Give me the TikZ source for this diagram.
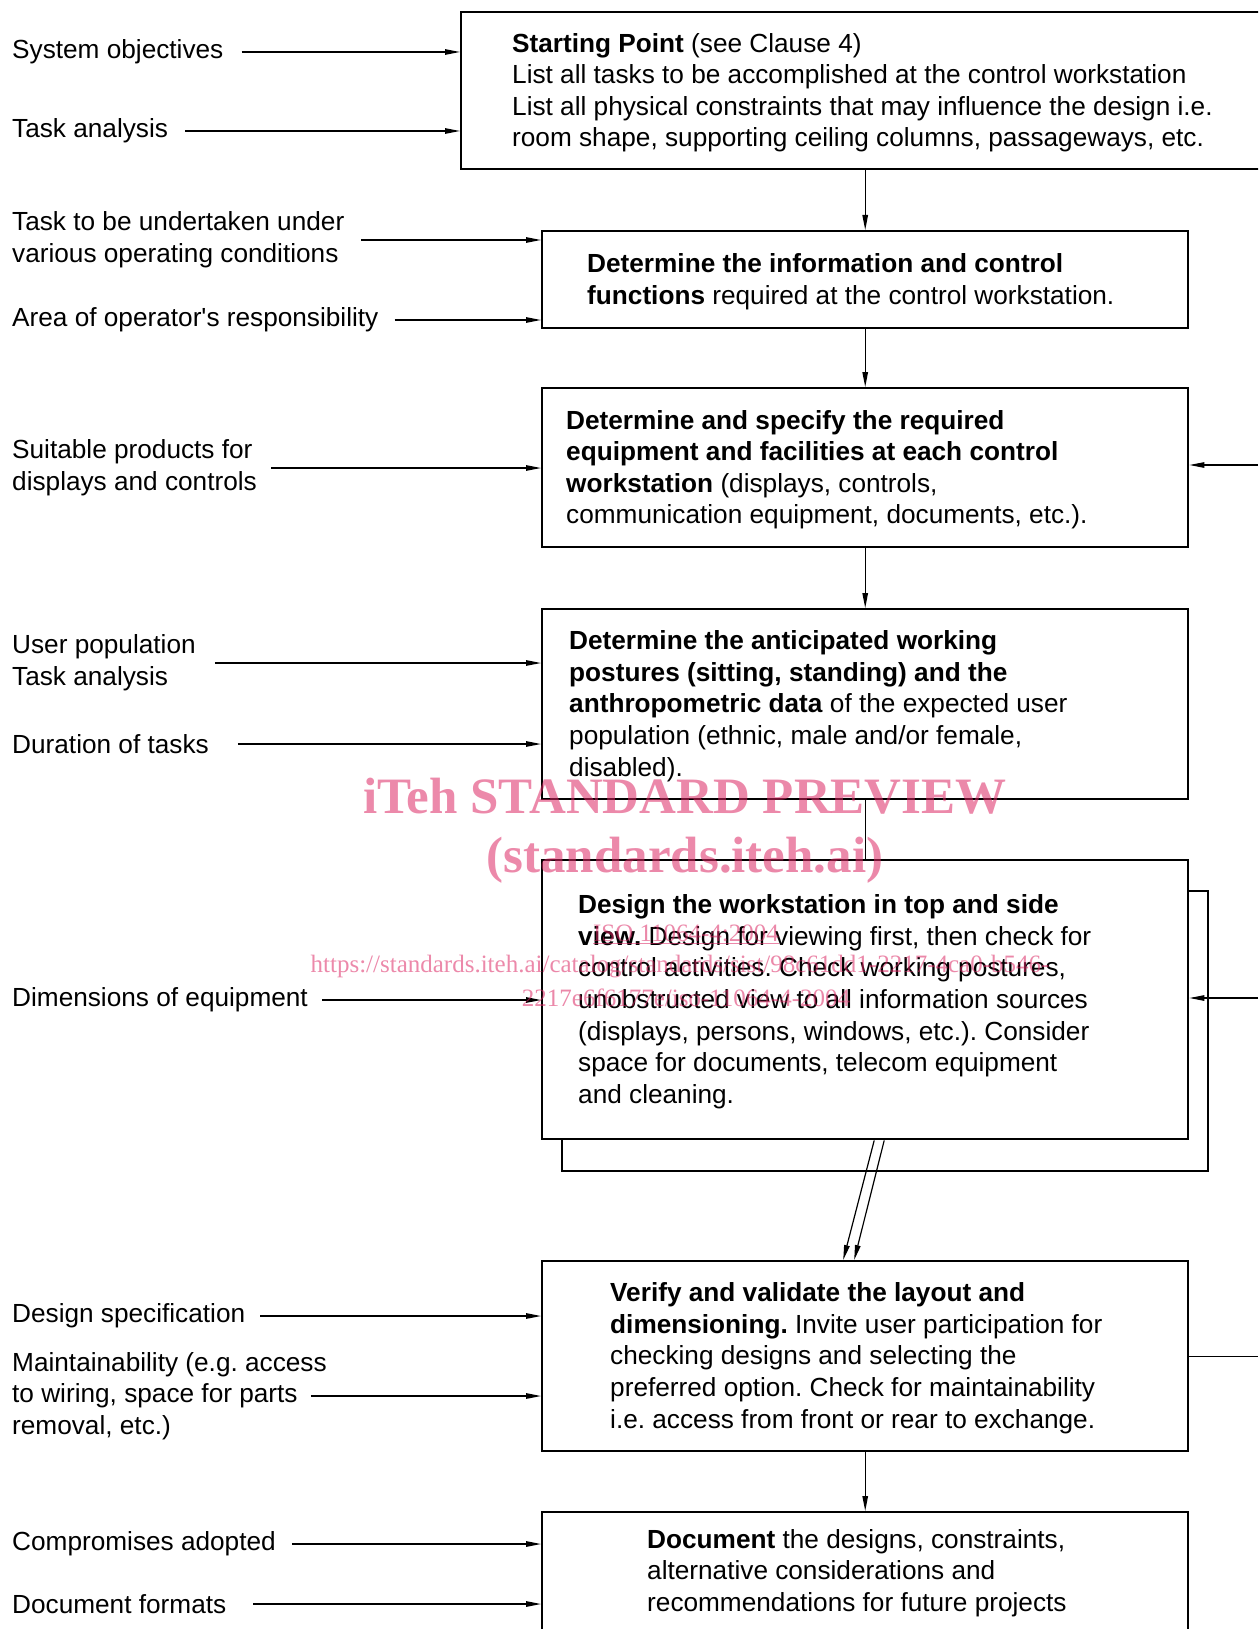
\documentclass[tikz,border=0pt]{standalone}
\usepackage{fontspec}
\setmainfont{Liberation Sans}
\newfontfamily\rawfont{Liberation Sans}
\newfontfamily\wmfont{Liberation Serif}
\usetikzlibrary{arrows.meta}
\definecolor{wm}{RGB}{220,40,100}
\frenchspacing
\begin{document}
\begin{tikzpicture}[x=1pt,y=-1pt,
  box/.style={draw, line width=2.4pt, rectangle, inner sep=0pt, anchor=north west, fill=white},
  btext/.style={anchor=west, align=left, inner sep=0pt, yshift=-2pt, font=\fontsize{26.2}{31.6}\selectfont},
  lab/.style={anchor=west, align=left, inner sep=0pt, yshift=-2pt, font=\fontsize{26.2}{31.6}\selectfont},
  arr/.style={line width=1.2pt, -{Triangle[length=15pt,width=5.5pt]}},
  ln/.style={line width=1.2pt},
  wmbig/.style={text=wm, opacity=0.55, text opacity=0.55, inner sep=0pt, font=\wmfont\bfseries\fontsize{51}{51}\selectfont},
  wmsmall/.style={text=wm, opacity=0.55, text opacity=0.55, inner sep=0pt, font=\wmfont\fontsize{25}{25}\selectfont}]
\path[use as bounding box] (0,0) rectangle (1258,1629);
\clip (0,0) rectangle (1258,1629);

% boxes
\node[box, minimum width=840pt, minimum height=157pt] (b1) at (460,11) {};
\node[box, minimum width=646pt, minimum height=97pt] (b2) at (541,230) {};
\node[box, minimum width=646pt, minimum height=159pt] (b3) at (541,387) {};
\node[box, minimum width=646pt, minimum height=190pt] (b4) at (541,608) {};
\node[box, minimum width=646pt, minimum height=280pt] (sh) at (561,890) {};
\node[box, minimum width=646pt, minimum height=279pt] (b5) at (541,859) {};
\node[box, minimum width=646pt, minimum height=190pt] (b6) at (541,1260) {};
\node[box, minimum width=646pt, minimum height=160pt] (b7) at (541,1511) {};

% box texts
\node[btext] (t1) at ([xshift=52pt]b1.west) {\textbf{Starting Point} (see Clause 4)\\List all tasks to be accomplished at the control workstation\\List all physical constraints that may influence the design i.e.\\room shape, supporting ceiling columns, passageways, etc.};
\node[btext] (t2) at ([xshift=46pt]b2.west) {\textbf{Determine the information and control}\\\textbf{functions} required at the control workstation.};
\node[btext] (t3) at ([xshift=25pt]b3.west) {\textbf{Determine and specify the required}\\\textbf{equipment and facilities at each control}\\\textbf{workstation} (displays, controls,\\communication equipment, documents, etc.).};
\node[btext] (t4) at ([xshift=28pt]b4.west) {\textbf{Determine the anticipated working}\\\textbf{postures (sitting, standing) and the}\\\textbf{anthropometric data} of the expected user\\population (ethnic, male and/or female,\\disabled).};
\node[btext] (t5) at ([xshift=37pt]b5.west) {\textbf{Design the workstation in top and side}\\\textbf{view.} Design for viewing first, then check for\\control activities. Check working postures,\\unobstructed view to all information sources\\(displays, persons, windows, etc.). Consider\\space for documents, telecom equipment\\and cleaning.};
\node[btext] (t6) at ([xshift=69pt]b6.west) {\textbf{Verify and validate the layout and}\\\textbf{dimensioning.} Invite user participation for\\checking designs and selecting the\\preferred option. Check for maintainability\\i.e. access from front or rear to exchange.};
\node[btext] (t7) at ([xshift=106pt]b7.west |- 0,1571) {\textbf{Document} the designs, constraints,\\alternative considerations and\\recommendations for future projects};

% left labels
\node[lab] (l1) at (12,50) {System objectives};
\node[lab] (l2) at (12,129) {Task analysis};
\node[lab] (l3) at (12,238) {Task to be undertaken under\\various operating conditions};
\node[lab] (l4) at (12,318) {Area of operator{\rawfont'}s responsibility};
\node[lab] (l5) at (12,466) {Suitable products for\\displays and controls};
\node[lab] (l6) at (12,661) {User population\\Task analysis};
\node[lab] (l7) at (12,742) {Duration of tasks};
\node[lab] (l8) at (12,998) {Dimensions of equipment};
\node[lab] (l9) at (12,1314) {Design specification};
\node[lab] (l10) at (12,1394) {Maintainability (e.g. access\\to wiring, space for parts\\removal, etc.)};
\node[lab] (l11) at (12,1542) {Compromises adopted};
\node[lab] (l12) at (12,1602) {Document formats};

% input arrows
\draw[arr] ([xshift=18pt]l1.east) -- (l1.east -| b1.west);
\draw[arr] ([xshift=17pt]l2.east) -- (l2.east -| b1.west);
\draw[arr] ([xshift=17pt]l3.east) -- (l3.east -| b2.west);
\draw[arr] ([xshift=16pt]l4.east) -- (l4.east -| b2.west);
\draw[arr] ([xshift=14pt]l5.east) -- (l5.east -| b3.west);
\draw[arr] ([xshift=19pt]l6.east) -- (l6.east -| b4.west);
\draw[arr] ([xshift=29pt]l7.east) -- (l7.east -| b4.west);
\draw[arr] ([xshift=14pt]l8.east) -- (l8.east -| b5.west);
\draw[arr] ([xshift=15pt]l9.east) -- (l9.east -| b6.west);
\draw[arr] ([xshift=-16pt]l10.east) -- (l10.east -| b6.west);
\draw[arr] ([xshift=16pt]l11.east) -- (l11.east -| b7.west);
\draw[arr] ([xshift=27pt]l12.east) -- (l12.east -| b7.west);

% main flow
\draw[arr] (b1.south -| b2.north) -- (b2.north);
\draw[arr] (b2.south) -- (b3.north);
\draw[arr] (b3.south) -- (b4.north);
\draw[ln] (b4.south) -- (b5.north);
\draw[arr] ([xshift=9pt]b5.south) -- ([xshift=-22pt]b6.north);
\draw[arr] ([xshift=19pt]b5.south) -- ([xshift=-11pt]b6.north);
\draw[arr] (b6.south) -- (b7.north);

% feedback lines on the right
\coordinate (f1) at (1258,465);
\coordinate (f2) at (1258,998);
\coordinate (f3) at (1258,1355);
\draw[arr] (f1) -- (f1 -| b3.east);
\draw[arr] (f2) -- (f2 -| b5.east);
\draw[ln] (b6.east) -- (b6.east -| f3);

% watermark
\node[wmbig] (w1) at (685,796) {iTeh STANDARD PREVIEW};
\node[wmbig] (w2) at (685,860) {(standards.iteh.ai)};
\node[wmsmall] (w3) at (686,934) {\underline{ISO 11064-4:2004}};
\node[wmsmall] (w4) at (680,967) {https://standards.iteh.ai/catalog/standards/sist/98c61dd1-2217-4ca0-b546-};
\node[wmsmall] (w5) at (686,998) {2217e6f6177e/iso-11064-4-2004};
\end{tikzpicture}
\end{document}
